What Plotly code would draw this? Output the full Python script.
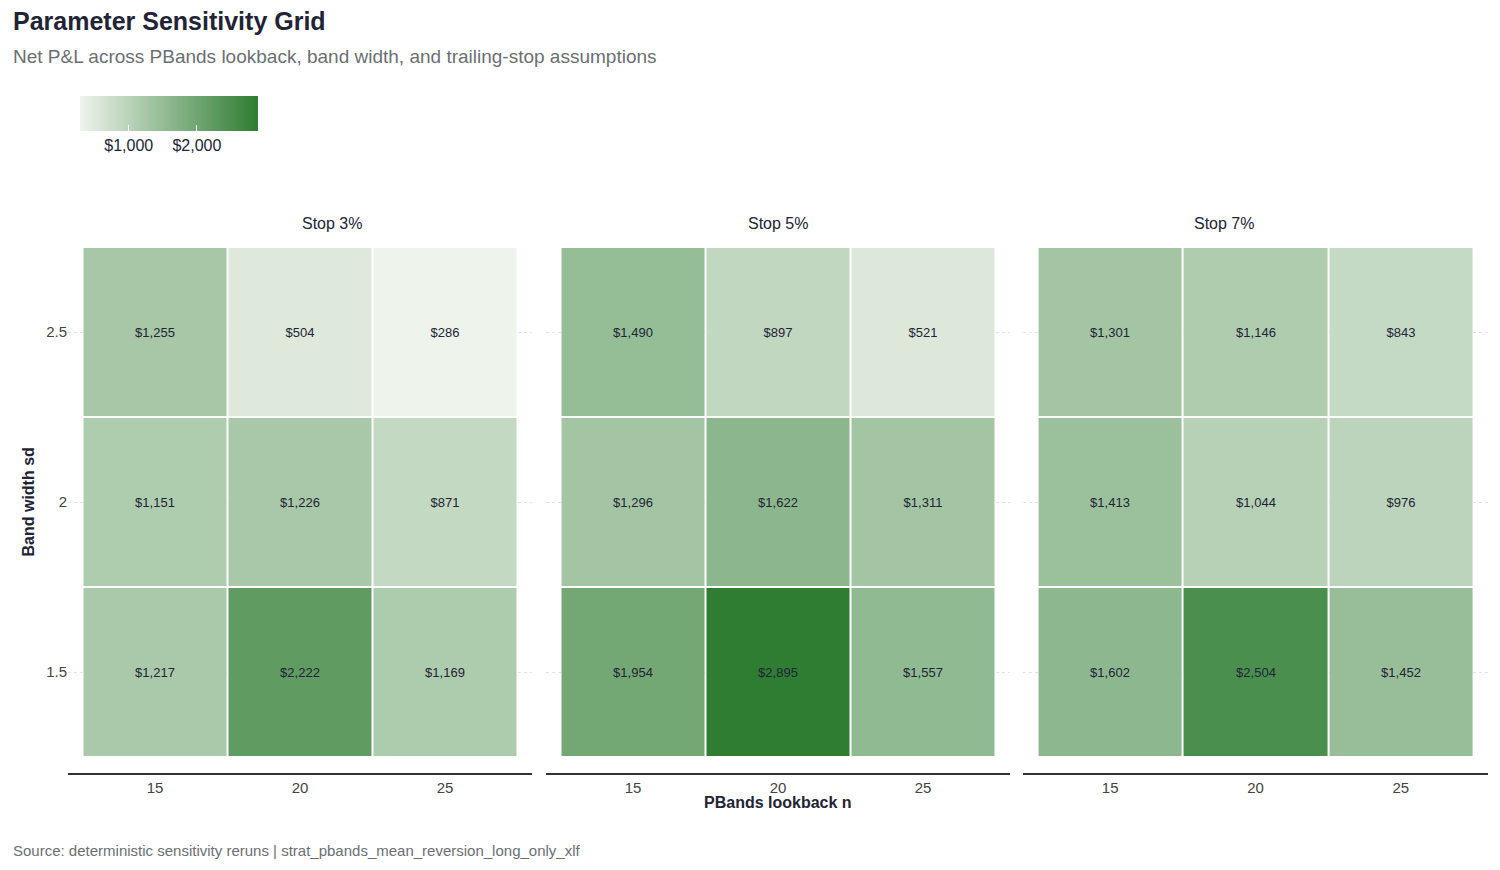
import plotly.graph_objects as go

W, H = 1500, 870
OFF = 8  # page body margin shifts the figure by this many pixels

lookback = [15, 20, 25]
band_width = [1.5, 2.0, 2.5]
stops = ["Stop 3%", "Stop 5%", "Stop 7%"]
# rows = band width (1.5, 2, 2.5), cols = lookback (15, 20, 25)
pnl = {
    "Stop 3%": [[1217, 2222, 1169], [1151, 1226, 871], [1255, 504, 286]],
    "Stop 5%": [[1954, 2895, 1557], [1296, 1622, 1311], [1490, 897, 521]],
    "Stop 7%": [[1602, 2504, 1452], [1413, 1044, 976], [1301, 1146, 843]],
}

zmin = min(min(r) for v in pnl.values() for r in v)
zmax = max(max(r) for v in pnl.values() for r in v)

ink = "#222436"
muted = "#6b6f73"


def px(x):
    return (x - OFF) / W


def py(y):
    return 1 - (y - OFF) / H


px_domains = [(68, 532), (546, 1010), (1023, 1488)]
ydom = [py(773), py(247)]

fig = go.Figure()
for i, stop in enumerate(stops):
    n = "" if i == 0 else str(i + 1)
    z = pnl[stop]
    fig.add_trace(go.Heatmap(
        x=lookback, y=band_width, z=z,
        zmin=zmin, zmax=zmax,
        colorscale=[[0, "#eef3ec"], [1, "#2e7d32"]],
        xgap=2, ygap=2,
        text=[[f"${v:,}" for v in r] for r in z],
        texttemplate="%{text}", textfont=dict(size=13, color=ink),
        showscale=(i == 0),
        colorbar=dict(
            orientation="h", x=px(80), xanchor="left", y=py(96), yanchor="top",
            len=178, lenmode="pixels", thickness=35, thicknessmode="pixels",
            xpad=0, ypad=0,
            outlinewidth=0, tickvals=[1000, 2000], tickformat="$,.0f",
            ticks="inside", tickcolor="white", ticklen=6,
            tickfont=dict(size=16, color=ink),
        ),
        xaxis="x" + n, yaxis="y" + n,
        hovertemplate="n=%{x}<br>sd=%{y}<br>%{text}<extra></extra>",
    ))
    a, b = px_domains[i]
    fig.layout["xaxis" + n] = dict(
        domain=[px(a), px(b)], range=[12, 28], tickvals=lookback,
        showgrid=False, zeroline=False, showline=True, linecolor="#333", linewidth=2,
        ticks="", tickfont=dict(size=15, color="#444"), anchor="y" + n,
    )
    fig.layout["yaxis" + n] = dict(
        domain=ydom, range=[1.203, 2.75], tickvals=band_width,
        ticktext=["1.5", "2", "2.5"], showticklabels=(i == 0),
        showgrid=True, gridcolor="#e4e4e4", griddash="dot", zeroline=False,
        tickfont=dict(size=15, color="#444"), anchor="x" + n,
    )
    fig.add_annotation(text=stop, x=px((a + b) / 2), y=py(213), xref="paper", yref="paper",
                       showarrow=False, font=dict(size=16, color=ink))

ann = [
    dict(text="<b>Parameter Sensitivity Grid</b>", x=px(11), y=py(21), font=dict(size=25, color=ink)),
    dict(text="Net P&L across PBands lookback, band width, and trailing-stop assumptions",
         x=px(11), y=py(57), font=dict(size=19, color=muted)),
    dict(text="Source: deterministic sensitivity reruns | strat_pbands_mean_reversion_long_only_xlf",
         x=px(11), y=py(850), font=dict(size=15, color=muted)),
]
for d in ann:
    fig.add_annotation(xref="paper", yref="paper", xanchor="left", yanchor="middle", showarrow=False, **d)
fig.add_annotation(text="<b>PBands lookback n</b>", x=px(778), y=py(813), xref="paper", yref="paper",
                   showarrow=False, font=dict(size=16, color=ink))
fig.add_annotation(text="<b>Band width sd</b>", x=px(18), y=py(502), xref="paper", yref="paper",
                   showarrow=False, textangle=-90, font=dict(size=16, color=ink))

fig.update_layout(
    width=W, height=H, margin=dict(l=0, r=0, t=0, b=0),
    paper_bgcolor="white", plot_bgcolor="white",
    font=dict(family="Liberation Sans, Arial, sans-serif"),
)
fig.write_html("out.html")
